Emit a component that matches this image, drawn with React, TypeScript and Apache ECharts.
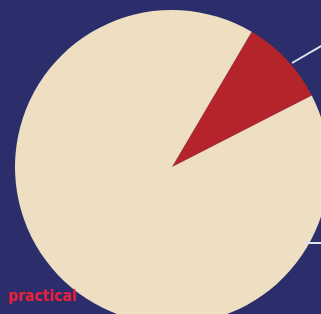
import React, { useEffect, useRef } from "react";
import * as echarts from "echarts";

const categories = ["Highlighted", "Other"];
const values = [9, 91];
const colors = ["#b5242b", "#eedfc2"];
const logoText = "practical";

export default function App() {
  const ref = useRef<HTMLDivElement>(null);
  useEffect(() => {
    if (!ref.current) return;
    const chart = echarts.init(ref.current, undefined, { renderer: "svg" });
    chart.setOption({
      animation: false,
      backgroundColor: "#2c2e6b",
      graphic: [
        {
          type: "line",
          shape: { x1: 292, y1: 63, x2: 323, y2: 45 },
          style: { stroke: "#dfe4f2", lineWidth: 2 },
          z: 10,
        },
        {
          type: "line",
          shape: { x1: 302, y1: 243, x2: 323, y2: 243 },
          style: { stroke: "#dfe4f2", lineWidth: 2 },
          z: 10,
        },
        {
          type: "text",
          left: 8,
          top: 288,
          style: {
            text: logoText,
            fill: "#e5203a",
            font: "bold 15.5px 'DejaVu Sans Condensed', 'DejaVu Sans', sans-serif",
          },
          z: 10,
        },
      ],
      series: [
        {
          type: "pie",
          center: [172, 167],
          radius: [0, 157],
          startAngle: 59.5,
          clockwise: true,
          label: { show: false },
          labelLine: { show: false },
          emphasis: { disabled: true },
          data: categories.map((c, i) => ({
            name: c,
            value: values[i],
            itemStyle: { color: colors[i] },
          })),
        },
      ],
    });
    return () => chart.dispose();
  }, []);
  return (
    <div
      ref={ref}
      style={{ position: "fixed", left: 0, top: 0, width: 321, height: 314 }}
    />
  );
}
